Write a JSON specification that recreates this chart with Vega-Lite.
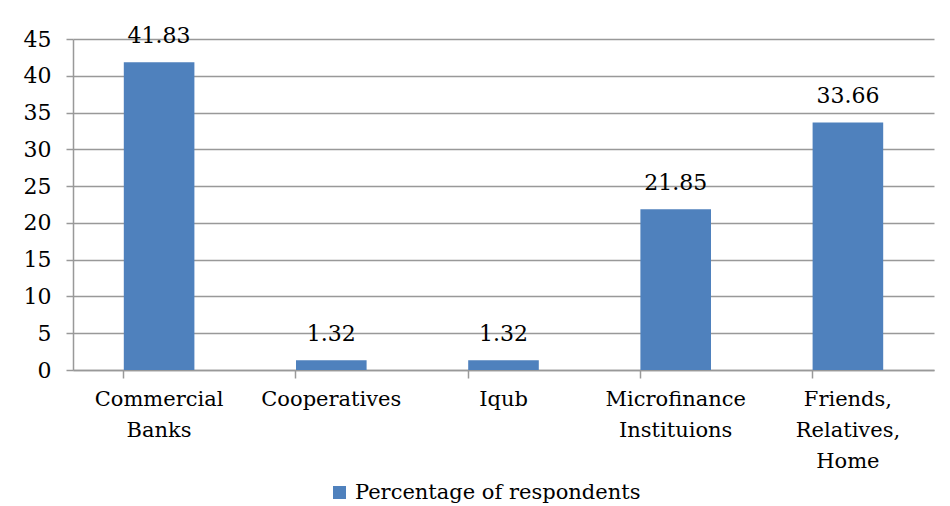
{
  "$schema": "https://vega.github.io/schema/vega-lite/v6.json",
  "autosize": {"type": "none"},
  "width": 861,
  "height": 331,
  "padding": {"left": 73, "top": 39, "right": 16, "bottom": 136},
  "background": "white",
  "config": {
    "view": {"stroke": null},
    "font": "DejaVu Serif",
    "axis": {"labelFont": "DejaVu Serif", "labelColor": "black"},
    "legend": {"labelFont": "DejaVu Serif"},
    "text": {"font": "DejaVu Serif"}
  },
  "data": {
    "values": [
      {"source": "Commercial|Banks", "value": 41.83, "series": "Percentage of respondents"},
      {"source": "Cooperatives", "value": 1.32, "series": "Percentage of respondents"},
      {"source": "Iqub", "value": 1.32, "series": "Percentage of respondents"},
      {"source": "Microfinance|Instituions", "value": 21.85, "series": "Percentage of respondents"},
      {"source": "Friends,|Relatives,|Home", "value": 33.66, "series": "Percentage of respondents"}
    ]
  },
  "encoding": {
    "x": {
      "field": "source",
      "type": "nominal",
      "sort": null,
      "title": null,
      "scale": {"paddingInner": 0.59, "paddingOuter": 0.295},
      "axis": {
        "labelExpr": "split(datum.label, '|')",
        "labelAngle": 0,
        "labelFontSize": 21,
        "labelLineHeight": 31,
        "labelPadding": 10,
        "labelBaseline": "top",
        "tickSize": 8,
        "tickColor": "#999999",
        "tickWidth": 1.5,
        "bandPosition": 0,
        "domainColor": "#999999",
        "domainWidth": 1.5,
        "grid": false
      }
    },
    "y": {
      "field": "value",
      "type": "quantitative",
      "title": null,
      "scale": {"domain": [0, 45], "nice": false},
      "axis": {
        "values": [0, 5, 10, 15, 20, 25, 30, 35, 40, 45],
        "labelFontSize": 22,
        "labelPadding": 15,
        "tickSize": 7,
        "tickColor": "#999999",
        "tickWidth": 1.5,
        "domainColor": "#999999",
        "domainWidth": 1.5,
        "grid": true,
        "gridColor": "#999999",
        "gridWidth": 1.5
      }
    }
  },
  "layer": [
    {
      "mark": {"type": "bar", "color": "#4F81BD"},
      "encoding": {
        "color": {
          "field": "series",
          "type": "nominal",
          "scale": {"range": ["#4F81BD"]},
          "legend": {
            "title": null,
            "orient": "none",
            "legendX": 256,
            "legendY": 443,
            "symbolType": "square",
            "symbolSize": 170,
            "symbolStrokeWidth": 0,
            "labelFontSize": 21,
            "labelColor": "black",
            "labelLimit": 500,
            "labelOffset": 5
          }
        }
      }
    },
    {
      "mark": {"type": "text", "fontSize": 22, "color": "black", "baseline": "middle", "dy": -26},
      "encoding": {"text": {"field": "value", "type": "quantitative", "format": ".2f"}}
    }
  ]
}
